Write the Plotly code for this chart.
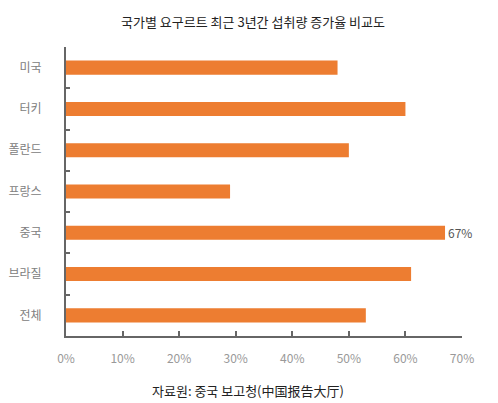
import plotly.graph_objects as go

categories = ["미국", "터키", "폴란드", "프랑스", "중국", "브라질", "전체"]
values = [48, 60, 50, 29, 67, 61, 53]
labelled = ["중국"]
x_ticks = [0, 10, 20, 30, 40, 50, 60, 70]
x_tick_labels = [f"{t}%" for t in x_ticks]
title_text = "국가별 요구르트 최근 3년간 섭취량 증가율 비교도"
source_text = "자료원: 중국 보고청(中国报告大厅)"

texts = [f"{v}%" if c in labelled else "" for c, v in zip(categories, values)]

font = "Noto Sans CJK KR"

# page body has an 8px default margin; size the figure so it fits the window
W, H = 490, 395
L, R, T, B = 58, 36, 39, 67
plot_h = H - T - B
plot_w = W - L - R

fig = go.Figure(go.Bar(
    x=values, y=categories, orientation="h",
    marker=dict(color="#ED7D31", line=dict(width=0)),
    width=0.34,
    text=texts, textposition="outside", cliponaxis=False, constraintext="none",
    textfont=dict(family=font, size=12, color="#555555"),
))

fig.update_layout(
    width=W, height=H,
    margin=dict(l=L, r=R, t=T, b=B, autoexpand=False),
    paper_bgcolor="white", plot_bgcolor="white",
    showlegend=False,
    title=dict(text=title_text, x=0.5, xanchor="center", y=1 - 14 / H, yanchor="middle",
               font=dict(family=font, size=13, color="#222222")),
    annotations=[dict(text=source_text, xref="paper", yref="paper", x=(240 - L) / plot_w,
                      xanchor="center", y=-(382 - (T + plot_h)) / plot_h, yanchor="middle",
                      showarrow=False,
                      font=dict(family=font, size=13, color="#222222"))],
    xaxis=dict(range=[0, 70], tickvals=x_ticks, ticktext=x_tick_labels, automargin=False,
               showgrid=False, zeroline=False, showline=True, linecolor="#666666", linewidth=2,
               ticks="inside", ticklen=5, tickcolor="#666666", tickwidth=1.5,
               ticklabelstandoff=11,
               tickfont=dict(family=font, size=12, color="#999999")),
    yaxis=dict(categoryorder="array", categoryarray=categories, autorange="reversed",
               automargin=False,
               showgrid=False, showline=True, linecolor="#666666", linewidth=2,
               ticks="inside", tickson="boundaries", ticklen=4, tickcolor="#666666", tickwidth=1.5,
               ticklabelstandoff=20,
               tickfont=dict(family=font, size=12, color="#808080")),
)

fig.write_html("out.html")
